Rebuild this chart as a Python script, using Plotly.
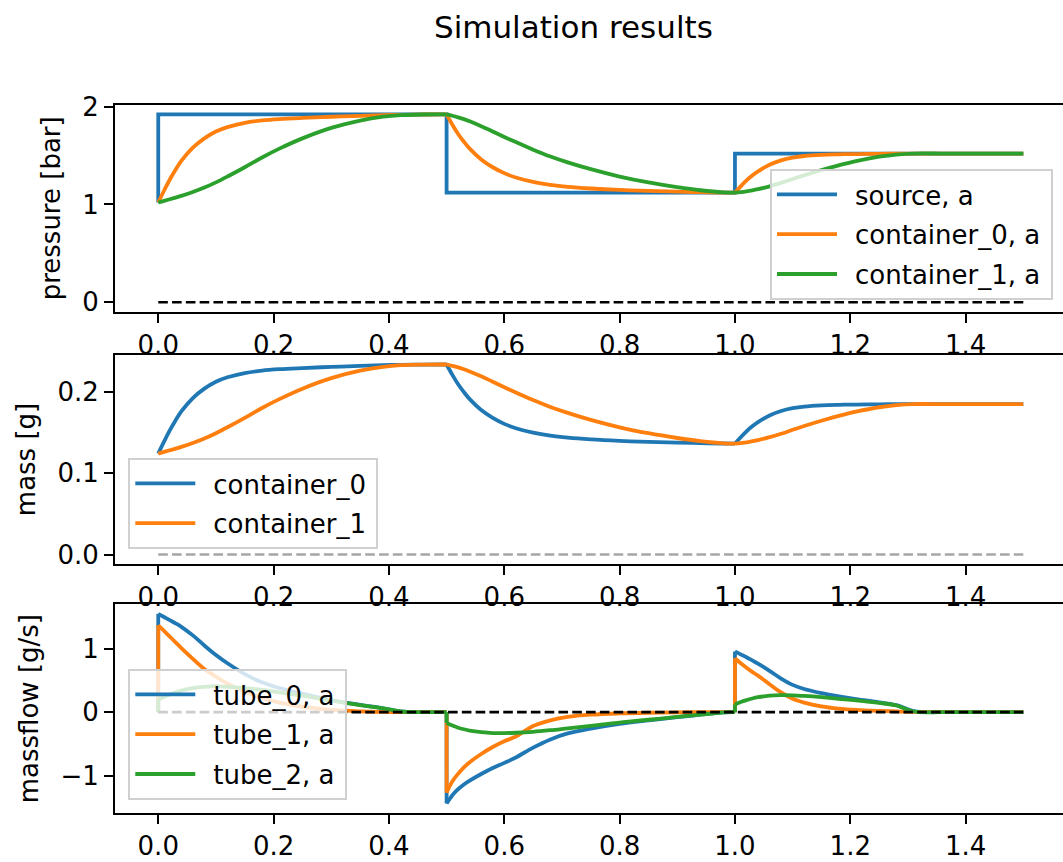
import plotly.graph_objects as go

# ---- time grid shared by the container / tube series (duplicate stamps at the steps)
T = [0.0, 0.0, 0.01, 0.02, 0.03, 0.04, 0.06, 0.08, 0.10, 0.12, 0.15, 0.18, 0.21, 0.25, 0.30, 0.35, 0.39, 0.42, 0.46,
     0.5, 0.5, 0.51, 0.52, 0.53, 0.54, 0.56, 0.58, 0.60, 0.62, 0.65, 0.68, 0.71, 0.75, 0.80, 0.85, 0.90, 0.94, 0.98,
     1.0, 1.0, 1.01, 1.02, 1.03, 1.04, 1.06, 1.08, 1.10, 1.12, 1.15, 1.18, 1.21, 1.25, 1.28, 1.31, 1.36, 1.43, 1.5]

# ---- source pressure (step profile) [bar]
SRC_T = [0.0, 0.0, 0.5, 0.5, 1.0, 1.0, 1.5]
SRC_P = [1.02, 1.92, 1.92, 1.12, 1.12, 1.52, 1.52]

# ---- container pressures [bar]
P_C0 = [1.02, 1.02, 1.14, 1.255, 1.355, 1.445, 1.58, 1.675, 1.745, 1.79, 1.834, 1.858, 1.872, 1.884, 1.896, 1.905, 1.912, 1.916, 1.919,
        1.92, 1.92, 1.815, 1.72, 1.64, 1.57, 1.46, 1.38, 1.32, 1.275, 1.23, 1.20, 1.18, 1.163, 1.148, 1.138, 1.13, 1.125, 1.121,
        1.12, 1.12, 1.185, 1.245, 1.295, 1.338, 1.405, 1.45, 1.478, 1.495, 1.507, 1.512, 1.515, 1.517, 1.519, 1.52, 1.52, 1.52, 1.52]
P_C1 = [1.02, 1.02, 1.036, 1.053, 1.07, 1.088, 1.127, 1.172, 1.225, 1.285, 1.38, 1.48, 1.57, 1.675, 1.782, 1.857, 1.896, 1.912, 1.919,
        1.92, 1.92, 1.906, 1.89, 1.872, 1.85, 1.80, 1.745, 1.69, 1.637, 1.56, 1.49, 1.43, 1.36, 1.285, 1.225, 1.177, 1.145, 1.123,
        1.12, 1.12, 1.126, 1.134, 1.144, 1.156, 1.185, 1.22, 1.26, 1.298, 1.352, 1.40, 1.443, 1.488, 1.51, 1.52, 1.52, 1.52, 1.52]

# ---- container masses [g]
M_C0 = [0.1244, 0.1244, 0.1391, 0.1531, 0.1653, 0.1763, 0.1928, 0.2044, 0.2129, 0.2184, 0.2237, 0.2267, 0.2284, 0.2298, 0.2313, 0.2324, 0.2333, 0.2338, 0.2341,
        0.2342, 0.2342, 0.2214, 0.2098, 0.2001, 0.1915, 0.1781, 0.1684, 0.1610, 0.1556, 0.1501, 0.1464, 0.1440, 0.1419, 0.1401, 0.1388, 0.1379, 0.1373, 0.1368,
        0.1366, 0.1366, 0.1446, 0.1519, 0.1580, 0.1632, 0.1714, 0.1769, 0.1803, 0.1824, 0.1839, 0.1845, 0.1848, 0.1851, 0.1853, 0.1854, 0.1854, 0.1854, 0.1854]
M_C1 = [0.1244, 0.1244, 0.1264, 0.1285, 0.1305, 0.1327, 0.1375, 0.1430, 0.1495, 0.1568, 0.1684, 0.1806, 0.1915, 0.2044, 0.2174, 0.2266, 0.2313, 0.2333, 0.2341,
        0.2342, 0.2342, 0.2325, 0.2306, 0.2284, 0.2257, 0.2196, 0.2129, 0.2062, 0.1997, 0.1903, 0.1818, 0.1745, 0.1659, 0.1568, 0.1495, 0.1436, 0.1397, 0.1370,
        0.1366, 0.1366, 0.1374, 0.1383, 0.1396, 0.1410, 0.1446, 0.1488, 0.1537, 0.1584, 0.1649, 0.1708, 0.1760, 0.1815, 0.1842, 0.1854, 0.1854, 0.1854, 0.1854]

# ---- tube massflows [g/s]
Q_T0 = [0.0, 1.55, 1.50, 1.45, 1.40, 1.345, 1.21, 1.05, 0.90, 0.77, 0.60, 0.47, 0.38, 0.29, 0.19, 0.115, 0.06, 0.01, 0.0,
        0.0, -1.44, -1.31, -1.215, -1.14, -1.08, -0.975, -0.88, -0.80, -0.715, -0.56, -0.43, -0.335, -0.26, -0.185, -0.13, -0.08, -0.04, -0.003,
        0.0, 0.955, 0.91, 0.865, 0.815, 0.765, 0.65, 0.53, 0.43, 0.365, 0.30, 0.25, 0.205, 0.155, 0.11, 0.015, 0.0, 0.0, 0.0]
Q_T1 = [0.0, 1.37, 1.28, 1.19, 1.10, 1.01, 0.84, 0.68, 0.56, 0.45, 0.32, 0.22, 0.15, 0.085, 0.035, 0.012, 0.004, 0.0, 0.0,
        0.0, -1.27, -1.09, -0.97, -0.87, -0.79, -0.66, -0.55, -0.46, -0.385, -0.22, -0.13, -0.075, -0.04, -0.02, -0.01, -0.005, 0.0, 0.0,
        0.0, 0.85, 0.77, 0.70, 0.635, 0.575, 0.44, 0.31, 0.21, 0.15, 0.09, 0.055, 0.035, 0.02, 0.012, 0.005, 0.0, 0.0, 0.0]
Q_T2 = [0.0, 0.2, 0.24, 0.28, 0.31, 0.34, 0.38, 0.40, 0.41, 0.40, 0.38, 0.35, 0.31, 0.26, 0.18, 0.11, 0.06, 0.01, 0.0,
        0.0, -0.17, -0.21, -0.245, -0.27, -0.29, -0.315, -0.33, -0.33, -0.325, -0.31, -0.285, -0.255, -0.215, -0.165, -0.12, -0.075, -0.04, -0.003,
        0.0, 0.12, 0.16, 0.19, 0.215, 0.235, 0.26, 0.268, 0.265, 0.255, 0.235, 0.21, 0.185, 0.145, 0.105, 0.01, 0.0, 0.0, 0.0]

# reference line at zero
ZERO_T = [0.0, 1.5]
ZERO_V = [0.0, 0.0]

XTICKS = [0.0, 0.2, 0.4, 0.6, 0.8, 1.0, 1.2, 1.4]

BLUE, ORANGE, GREEN = "#1f77b4", "#ff7f0e", "#2ca02c"
FONT = "DejaVu Sans"
LW = 3.8
PAD_L = "\u2002"   # gap between legend line sample and label
PAD_R = "\u2009"

fig = go.Figure()


def add(x, y, color, xa, ya, legend, group, show, name="", dash=None, width=LW, shape="linear"):
    fig.add_trace(go.Scatter(
        x=x, y=y, mode="lines", name=name, xaxis=xa, yaxis=ya,
        legend=legend, legendgroup=group, showlegend=show, hoverinfo="skip",
        line=dict(color=color, width=width, dash=dash, shape=shape, smoothing=1.0),
    ))


def step_series(x, y, color, name, xa, ya, legend):
    """Smooth pieces between the step instants, joined by straight vertical jumps."""
    breaks = [i for i in range(1, len(x)) if x[i] == x[i - 1]]
    label = PAD_L + name + PAD_R
    first = True
    for b in breaks:
        if y[b] != y[b - 1]:
            add([x[b - 1], x[b]], [y[b - 1], y[b]], color, xa, ya, legend, name, first, label)
            first = False
    edges = breaks + [len(x)]
    for s, e in zip(edges[:-1], edges[1:]):
        add(x[s:e], y[s:e], color, xa, ya, legend, name, first, label, shape="spline")
        first = False


def zero_line(color, xa, ya, legend):
    add(ZERO_T, ZERO_V, color, xa, ya, legend, None, False, dash="9.6px,4.2px", width=2.6)


# pressure panel
add(SRC_T, SRC_P, BLUE, "x", "y", "legend", "source, a", True, PAD_L + "source, a" + PAD_R)
step_series(T, P_C0, ORANGE, "container_0, a", "x", "y", "legend")
step_series(T, P_C1, GREEN, "container_1, a", "x", "y", "legend")
zero_line("black", "x", "y", "legend")

# mass panel
step_series(T, M_C0, BLUE, "container_0", "x2", "y2", "legend2")
step_series(T, M_C1, ORANGE, "container_1", "x2", "y2", "legend2")
zero_line("#a6a6a6", "x2", "y2", "legend2")

# massflow panel
step_series(T, Q_T0, BLUE, "tube_0, a", "x3", "y3", "legend3")
step_series(T, Q_T1, ORANGE, "tube_1, a", "x3", "y3", "legend3")
step_series(T, Q_T2, GREEN, "tube_2, a", "x3", "y3", "legend3")
zero_line("black", "x3", "y3", "legend3")

W, H = 1063, 862
XDOM = [115.0 / W, 1.0]
XR = [-0.075, -0.075 + (W - 115.0) / 576.7]


def ydom(top, bottom):
    return [1 - bottom / H, 1 - top / H]


axis_common = dict(
    showline=True, linecolor="black", linewidth=2,
    ticks="outside", ticklen=9, tickwidth=2, tickcolor="black",
    showgrid=False, zeroline=False, automargin=False,
    tickfont=dict(family=FONT, size=26, color="black"),
)

xcommon = dict(axis_common, domain=XDOM, range=XR, tickvals=XTICKS, tickformat=".1f", mirror=True)

title_font = dict(family=FONT, size=26, color="black")

fig.update_layout(
    width=W, height=H,
    margin=dict(l=0, r=0, t=0, b=0, autoexpand=False),
    paper_bgcolor="white", plot_bgcolor="white",
    font=dict(family=FONT, color="black"),
    title=dict(text="Simulation results", x=573.4 / W, xanchor="center",
               y=1 - 27.0 / H, yanchor="middle", yref="container", automargin=False,
               font=dict(family=FONT, size=31, color="black")),
    xaxis=dict(xcommon, anchor="y"),
    xaxis2=dict(xcommon, anchor="y2"),
    xaxis3=dict(xcommon, anchor="y3"),
    yaxis=dict(axis_common, domain=ydom(105, 311.7), range=[-0.096, 2.016], anchor="x",
               tickvals=[0, 1, 2], title=dict(text="pressure [bar]", font=title_font, standoff=14)),
    yaxis2=dict(axis_common, domain=ydom(355, 564), range=[-0.0117, 0.2459], anchor="x2",
                tickvals=[0.0, 0.1, 0.2], tickformat=".1f",
                title=dict(text="mass [g]", font=title_font, standoff=14)),
    yaxis3=dict(axis_common, domain=ydom(604.3, 813), range=[-1.59, 1.70], anchor="x3",
                tickvals=[-1, 0, 1], title=dict(text="massflow [g/s]", font=title_font, standoff=14)),
)

legend_common = dict(
    bgcolor="rgba(255,255,255,0.8)", bordercolor="#d0d0d0", borderwidth=2,
    font=dict(family=FONT, size=26, color="black"), itemwidth=60,
    traceorder="grouped", tracegroupgap=3,
)
fig.update_layout(
    legend=dict(legend_common, x=1053 / W, xanchor="right", y=1 - 169 / H, yanchor="top"),
    legend2=dict(legend_common, x=128.3 / W, xanchor="left", y=1 - 458 / H, yanchor="top"),
    legend3=dict(legend_common, x=128.3 / W, xanchor="left", y=1 - 669 / H, yanchor="top"),
)

fig.write_html("out.html")
